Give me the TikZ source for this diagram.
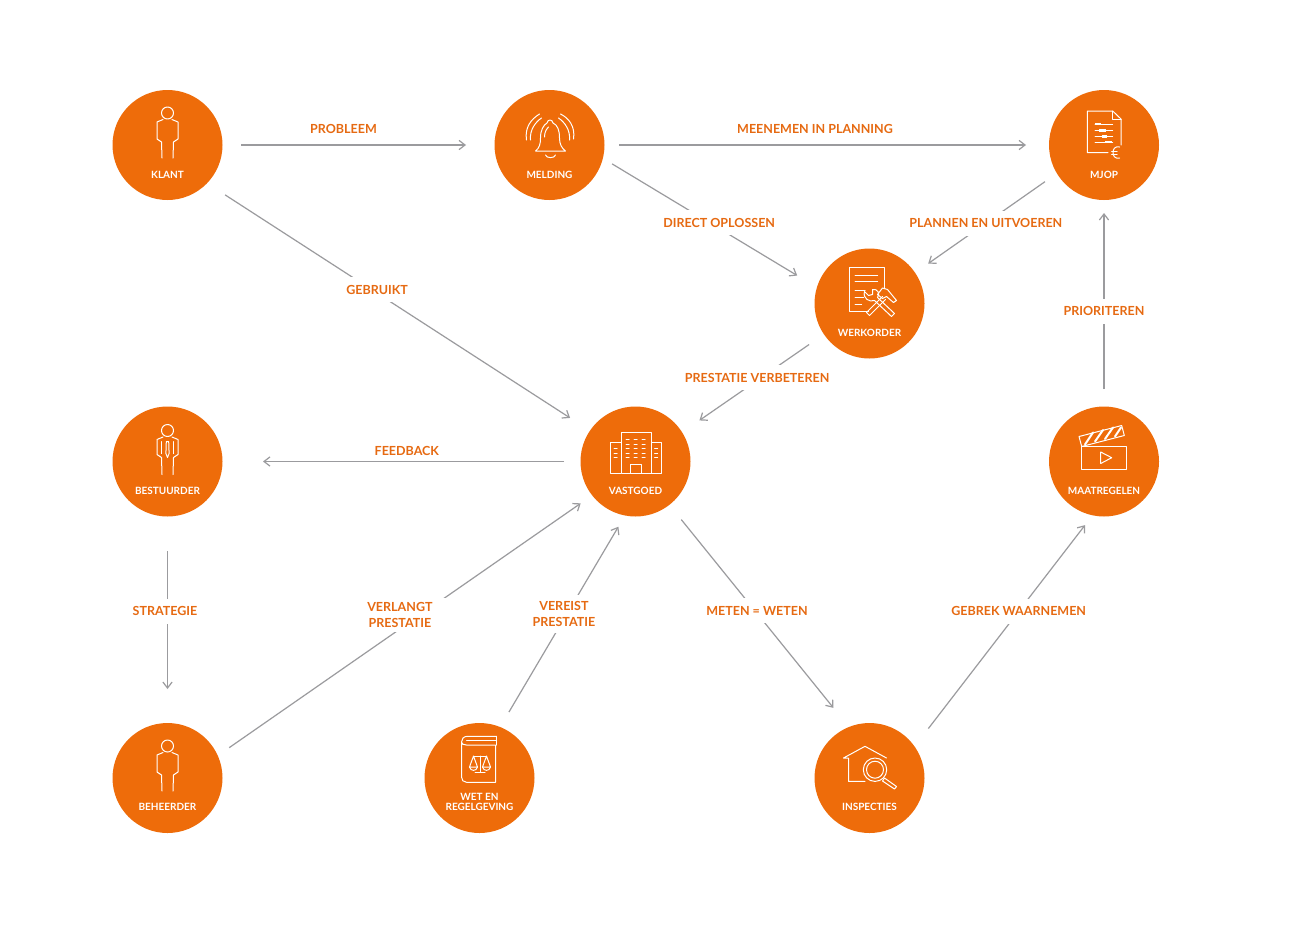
\documentclass[tikz,border=0pt]{standalone}
\usepackage{fontspec}
\setmainfont{Lato}
\usepackage{xcolor}
\usepackage{tikz}
\usetikzlibrary{
  arrows.meta,
  positioning,
  calc
}
\definecolor{vgOrange}{HTML}{EE6C0A}
\definecolor{vgLabel}{HTML}{E66A12}
\definecolor{vgLine}{HTML}{9B9B9E}
\tikzset{
  disc/.style={circle, fill=vgOrange, minimum size=110pt, inner sep=0pt, outer sep=0pt},
  captxt/.style={font=\fontsize{10}{10}\selectfont\bfseries, text=white, align=center, yshift=-29.5pt, inner sep=0pt},
  flow/.style={-{Straight Barb[length=6pt, width=12pt, angle'=75]}, line width=1.2pt, vgLine},
  flowlabel/.style={font=\fontsize{12.5}{15.5}\selectfont\bfseries, text=vgLabel, fill=white, align=center, minimum height=25pt, inner xsep=1pt, inner ysep=0pt},
  toplabel/.style={font=\fontsize{12.5}{15.5}\selectfont\bfseries, text=vgLabel, yshift=16pt, inner sep=0pt},
  iconline/.style={draw=white, line width=1pt, line join=round, line cap=round},
  personicon/.pic={
    \draw[iconline] (0,-32) circle (6);
    \draw[iconline] (-4.5,-25.5) -- (-10.5,-23) -- (-10.5,-6) -- (-6,-3) -- (-5.5,13);
    \draw[iconline] (4.5,-25.5) -- (10.5,-23) -- (10.5,-6) -- (6,-3) -- (5.5,13);
  },
  managericon/.pic={
    \draw[iconline] (0,-31) circle (6);
    \draw[iconline] (-4.5,-24.5) -- (-10.5,-22) -- (-10.5,-7) -- (-6,-4) -- (-5.5,13);
    \draw[iconline] (4.5,-24.5) -- (10.5,-22) -- (10.5,-7) -- (6,-4) -- (5.5,13);
    \draw[iconline] (-6,-20) -- (-6,-8);
    \draw[iconline] (6,-20) -- (6,-8);
    \draw[iconline] (-1.2,-20) -- (1.2,-20) -- (1.6,-8) -- (0,-4) -- (-1.6,-8) -- cycle;
  },
  bellicon/.pic={
    \draw[iconline] (-14,6) .. controls (-10,3) and (-9,-1) .. (-9,-7) .. controls (-9,-15) and (-6,-20) .. (-2.5,-22) .. controls (-2,-26) and (3,-26) .. (3.5,-22) .. controls (8,-20) and (10,-15) .. (10,-7) .. controls (10,-1) and (12,3) .. (16,6) -- cycle;
    \draw[iconline] (-4,10) .. controls (-3,13.5) and (5,13.5) .. (6,10);
    \draw[iconline] (-5,-8) .. controls (-5,-13) and (-3,-16) .. (-1,-18);
    \draw[iconline] (-23,-5) .. controls (-25,-18) and (-18,-26) .. (-10,-31);
    \draw[iconline] (-19,-5) .. controls (-20,-15) and (-14,-23) .. (-8,-27);
    \draw[iconline] (24,-6) .. controls (26,-19) and (19,-27) .. (11,-31);
    \draw[iconline] (20,-5) .. controls (21,-15) and (15,-23) .. (9,-27);
  },
  planicon/.pic={
    \draw[iconline] (4,7.7) -- (-16.7,7.7) -- (-16.7,-34) -- (8.7,-34) -- (17,-26) -- (17,0);
    \draw[iconline] (8.7,-34) -- (8.7,-26) -- (17,-26);
    \draw[iconline] (-9,-21) -- (8.7,-21);
    \draw[iconline] (-9,-14.3) -- (8.7,-14.3);
    \draw[iconline] (-9,-8.3) -- (8.7,-8.3);
    \draw[iconline] (-9,-3) -- (8.7,-3);
    \fill[white] (-9,-22.3) rectangle (-3,-19.7);
    \fill[white] (-5,-15.6) rectangle (2,-13);
    \fill[white] (-2,-9.6) rectangle (3,-7);
    \fill[white] (1,-4.3) rectangle (8,-1.7);
    \draw[iconline] (15.5,2) .. controls (11,1) and (9,4) .. (9,7.5) .. controls (9,11) and (11,14) .. (15.5,13);
    \draw[iconline] (7.5,6) -- (13,6);
    \draw[iconline] (7.5,9) -- (13,9);
  },
  ordericon/.pic={
    \draw[iconline] (-1,7.5) -- (-20.5,7.5) -- (-20.5,-36) -- (14.5,-36) -- (14.5,-15);
    \draw[iconline] (-14.5,-28.5) -- (8,-28.5);
    \draw[iconline] (-14.5,-22) -- (8,-22);
    \draw[iconline] (-14.5,-13.5) -- (-4.5,-13.5);
    \draw[iconline] (-14.5,-6.2) -- (-6,-6.2);
    \draw[iconline] (-14.5,0.8) -- (-8,0.8);
    \draw[iconline] (-3,9) -- (13,-7) (0,12) -- (16,-4) (-3,9) -- (0,12);
    \draw[iconline] (8,-9) -- (13,-15.5) -- (18,-14) -- (27,-3) -- (24,-1) -- (17,-7) -- (13,-5) -- cycle;
    \draw[iconline] (25,10) -- (8,-6) (22,13) -- (5,-3) (25,10) -- (22,13);
    \draw[iconline] (5,-3) .. controls (0,-1) and (-7,-5) .. (-5,-12) -- (-1,-8) -- (3,-9) -- (3,-14) .. controls (8,-15) and (11,-10) .. (8,-6);
  },
  buildingicon/.pic={
    \draw[iconline] (-25.5,12) rectangle (26,-19);
    \draw[iconline, fill=vgOrange] (-14.5,12) rectangle (15.5,-29.5);
    \draw[iconline] (-5.5,12) rectangle (5.5,3);
    \draw[iconline, dash pattern=on 3pt off 5pt] (-9.5,-22) -- (10,-22);
    \draw[iconline, dash pattern=on 3pt off 5pt] (-9.5,-17) -- (10,-17);
    \draw[iconline, dash pattern=on 3pt off 5pt] (-9.5,-13) -- (10,-13);
    \draw[iconline, dash pattern=on 3pt off 5pt] (-9.5,-8.5) -- (10,-8.5);
    \draw[iconline, dash pattern=on 3pt off 5pt] (-9.5,-4) -- (10,-4);
    \draw[iconline] (-21.5,-13) -- (-18.5,-13) (-21.5,-8.5) -- (-18.5,-8.5) (-21.5,-4) -- (-18.5,-4);
    \draw[iconline] (19,-13) -- (22,-13) (19,-8.5) -- (22,-8.5) (19,-4) -- (22,-4);
  },
  clappericon/.pic={
    \draw[iconline] (-22.3,-15) rectangle (22.7,8);
    \draw[iconline] (-3.3,-9.5) -- (7.7,-3.8) -- (-3.3,2) -- cycle;
    \draw[iconline] (-25,-25) -- (17.7,-36) -- (20.3,-26) -- (-22.3,-15) -- cycle;
    \draw[iconline, line width=2pt] (-19,-17) -- (-11,-29);
    \draw[iconline, line width=2pt] (-9,-20) -- (-1,-31.5);
    \draw[iconline, line width=2pt] (1,-22.5) -- (9,-34);
    \draw[iconline, line width=2pt] (11,-25) -- (17,-34);
  },
  lawicon/.pic={
    \draw[iconline] (17,-41.7) -- (-12,-41.7) .. controls (-16,-41.7) and (-18,-39) .. (-18,-36) -- (-18,-1) .. controls (-18,2) and (-16,4.3) .. (-13,4.3) -- (16,4.3) -- (16,-33) -- (-13,-33) .. controls (-16,-33) and (-18,-34) .. (-18,-36);
    \draw[iconline] (-13,-37.5) -- (17,-37.5);
    \draw[iconline] (17,-41.7) -- (17,-33);
    \draw[iconline] (-6,-22) -- (7,-22) (0.5,-22) -- (0.5,-6) (-4.5,-5.7) -- (5.5,-5.7);
    \draw[iconline] (-10,-11) -- (-6,-22) -- (-2,-11) -- cycle;
    \draw[iconline] (-10,-11) .. controls (-9,-6.5) and (-3,-6.5) .. (-2,-11);
    \draw[iconline] (3,-11) -- (7,-22) -- (11,-11) -- cycle;
    \draw[iconline] (3,-11) .. controls (4,-6.5) and (10,-6.5) .. (11,-11);
  },
  searchicon/.pic={
    \draw[iconline] (-4.5,3.3) -- (-21,3.3) -- (-21,-20) -- (-26,-20) -- (-4.5,-31.7) -- (17,-20);
    \draw[iconline] (5.5,-8.3) circle (11.7);
    \draw[iconline] (5.5,-8.3) circle (8.5);
    \draw[iconline] (15,0) -- (27,8.5) -- (25,11) -- (13,3) -- cycle;
  }
}
\begin{document}
\begin{tikzpicture}[x=1pt, y=-1pt]
  \useasboundingbox[fill=white] (0,0) rectangle (1306,924);

  \node[disc, label={[captxt]center:KLANT}] (klant) at (167.5,145) {};
  \node[disc, label={[captxt]center:MELDING}] (melding) at (549.5,145) {};
  \node[disc, label={[captxt]center:MJOP}] (mjop) at (1104,145) {};
  \node[disc, label={[captxt]center:WERKORDER}] (werkorder) at (869.5,303.5) {};
  \node[disc, label={[captxt]center:BESTUURDER}] (bestuurder) at (167.5,461.5) {};
  \node[disc, label={[captxt]center:VASTGOED}] (vastgoed) at (635.5,461.5) {};
  \node[disc, label={[captxt]center:MAATREGELEN}] (maatregelen) at (1104,461.5) {};
  \node[disc, label={[captxt,yshift=1pt]center:BEHEERDER}] (beheerder) at (167.5,778) {};
  \node[disc, label={[captxt,yshift=5.5pt]center:{WET EN\\REGELGEVING}}] (wet) at (479.5,778) {};
  \node[disc, label={[captxt,yshift=1pt]center:INSPECTIES}] (inspecties) at (869.5,778) {};

  \pic at (klant) {personicon};
  \pic at (melding) {bellicon};
  \pic at (mjop) {planicon};
  \pic at (werkorder) {ordericon};
  \pic at (bestuurder) {managericon};
  \pic at (vastgoed) {buildingicon};
  \pic at (maatregelen) {clappericon};
  \pic at (beheerder) {personicon};
  \pic at (wet) {lawicon};
  \pic at (inspecties) {searchicon};

  \draw[flow, shorten <=18.5pt, shorten >=28.5pt] (klant.east) -- node[toplabel, pos=.445] (lblprobleem) {PROBLEEM} (melding.west);
  \draw[flow, shorten <=14.5pt, shorten >=23pt] (melding.east) -- node[toplabel, pos=.4736] (lblplanning) {MEENEMEN IN PLANNING} (mjop.west);
  \draw[flow, shorten <=21.5pt, shorten >=23.6pt] (klant.-44.2) -- node[flowlabel, pos=.431, xshift=5pt] (lblgebruikt) {GEBRUIKT} (vastgoed.146.1);
  \draw[flow, shorten <=10.8pt, shorten >=23pt] (melding.-14.1) -- node[flowlabel, pos=.499, xshift=9.5pt] (lbldirect) {DIRECT OPLOSSEN} (werkorder.163.5);
  \draw[flow, shorten <=14.5pt, shorten >=16pt] (mjop.211.4) -- node[flowlabel, pos=.501] (lbluitvoeren) {PLANNEN EN UITVOEREN} (werkorder.34.7);
  \draw[flow, shorten <=18pt, shorten >=21pt] (werkorder.214.5) -- node[flowlabel, pos=.445, xshift=-3.6pt] (lblverbeteren) {PRESTATIE VERBETEREN} (vastgoed.32.7);
  \draw[flow, shorten <=16.5pt, shorten >=40.5pt] (vastgoed.west) -- node[toplabel, pos=.485, yshift=-5.5pt] (lblfeedback) {FEEDBACK} (bestuurder.east);
  \draw[flow, shorten <=34.5pt, shorten >=34pt] (bestuurder.south) -- node[flowlabel, pos=.458, xshift=-2.5pt] (lblstrategie) {STRATEGIE} (beheerder.north);
  \draw[flow, shorten <=14pt, shorten >=14pt] (beheerder.24.7) -- node[flowlabel, pos=.54, xshift=-20pt, minimum height=34pt, inner xsep=16pt] (lblverlangt) {VERLANGT\\PRESTATIE} (vastgoed.218.8);
  \draw[flow, shorten <=17.4pt, shorten >=13pt] (wet.68) -- node[flowlabel, pos=.535, xshift=-3pt, minimum height=38pt] (lblvereist) {VEREIST\\PRESTATIE} (vastgoed.259.7);
  \draw[flow, shorten <=19pt, shorten >=24.6pt] (vastgoed.-52.5) -- node[flowlabel, pos=.477, xshift=2pt] (lblmeten) {METEN = WETEN} (inspecties.112.3);
  \draw[flow, shorten <=22.6pt, shorten >=12.4pt] (inspecties.35.7) -- node[flowlabel, pos=.585] (lblgebrek) {GEBREK WAARNEMEN} (maatregelen.258);
  \draw[flow, shorten <=17.5pt, shorten >=13pt] (maatregelen.north) -- node[flowlabel, pos=.462] (lblprioriteren) {PRIORITEREN} (mjop.south);
\end{tikzpicture}
\end{document}
